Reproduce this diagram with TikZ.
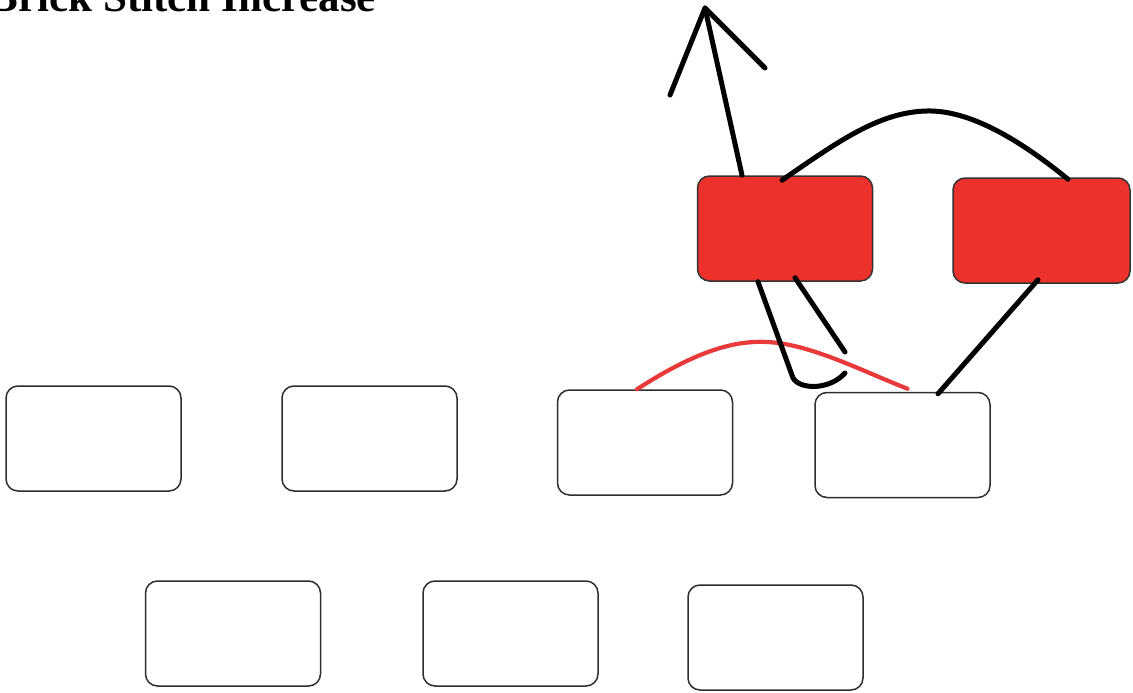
\documentclass[tikz,border=0pt]{standalone}
\usepackage{fontspec}
\newfontfamily\titlefont{Liberation Serif}
\definecolor{beadred}{RGB}{237,50,45}
\definecolor{threadred}{RGB}{232,58,58}
\definecolor{beadline}{RGB}{45,45,45}
\begin{document}
\begin{tikzpicture}[x=1pt,y=-1pt,
    bead/.style={draw=beadline,line width=1.5pt,rounded corners=12pt,inner sep=0pt,minimum width=175pt,minimum height=105pt},
    newbead/.style={bead,fill=beadred,draw=black!80},
    thread/.style={line width=5pt,black,line cap=round,line join=round},
    redthread/.style={line width=4.2pt,threadred,line cap=round}]
      \useasboundingbox (0,0) rectangle (1133,693);
      \clip (0,0) rectangle (1133,693);
      %Title, cut by the top edge as in the original
      \node[anchor=base east,inner sep=0pt] (title) at (376,12) {\titlefont\bfseries\fontsize{43}{43}\selectfont Brick Stitch Increase};

      % Two rows of old beads: {name/x/y}
      \foreach \name/\x/\y in {a/93.5/438.5, b/369.5/438.5, c/645/442.5, d/902.5/445,
                               e/233/633.5, f/510.5/633.5, g/775.5/637.5}{
          \node[bead] (\name) at (\x,\y) {};
      }
      % The two new (red) beads
      \node[newbead] (r1) at (785,228.5) {};
      \node[newbead,minimum width=177pt] (r2) at (1041.5,230.5) {};

      % Free ends of the thread
      \coordinate (tip) at (705,8);
      \coordinate (armL) at (670,95);
      \coordinate (armR) at (765,68);
      \coordinate (loop) at (845,373);
      \coordinate (tail) at (845,352);

      % Red thread between the old beads c and d
      \draw[redthread] ([xshift=-8pt]c.north) .. controls (690,355) and (730,340) .. (767,342)
            .. controls (810,344) and (860,370) .. ([xshift=5pt,yshift=3pt]d.north);

      % Black thread with the needle arrow
      \draw[thread] (armL) -- (tip) -- (armR);
      \draw[thread] (tip) -- ([xshift=-43pt]r1.north);
      \draw[thread] ([xshift=-27pt]r1.south) -- (793,378) .. controls (800,390) and (830,390) .. (loop);
      \draw[thread] ([xshift=10pt,yshift=4pt]r1.south) -- (tail);
      % Over the top of both new beads
      \draw[thread] ([xshift=-3pt,yshift=-5pt]r1.north) .. controls (840,140) and (880,112) .. (927,111)
            .. controls (970,110) and (1020,140) .. ([xshift=26.5pt,yshift=-2pt]r2.north);
      % Down from r2 to bead d
      \draw[thread] ([xshift=-3.5pt,yshift=4pt]r2.south) -- ([xshift=35.5pt,yshift=-2pt]d.north);
\end{tikzpicture}
\end{document}
